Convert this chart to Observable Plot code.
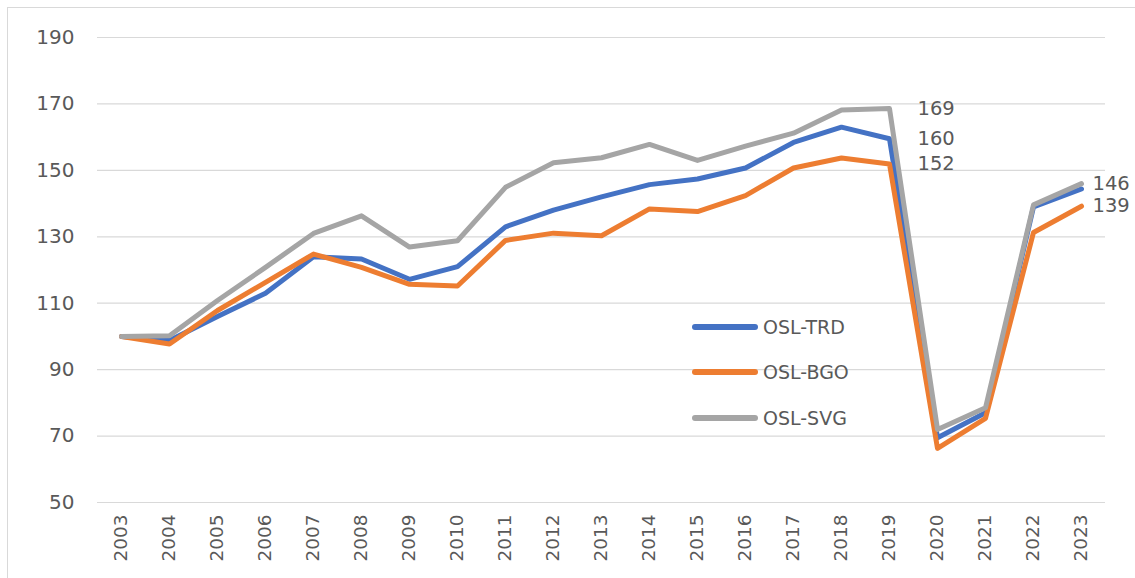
<!DOCTYPE html>
<html>
<head>
<meta charset="utf-8">
<script src="https://cdn.jsdelivr.net/npm/d3@7"></script>
<script src="https://cdn.jsdelivr.net/npm/@observablehq/plot@0.6"></script>
<style>
  html, body { margin: 0; padding: 0; background: #fff; }
  #wrap { position: relative; width: 1135px; height: 578px; overflow: hidden; font-family: "DejaVu Sans", sans-serif; }
  #frame { position: absolute; left: 7px; top: 7px; width: 1200px; height: 700px; border-left: 1.5px solid #d9d9d9; border-top: 1.5px solid #d9d9d9; box-sizing: border-box; }
  #chart { position: absolute; left: 0; top: 0; }
  #legend { position: absolute; left: 692px; top: 0; }
  .lg { position: absolute; left: 0; white-space: nowrap; display: flex; align-items: center; color: #595959; font-size: 19px; }
  .lg .sw { width: 66px; height: 6px; border-radius: 3px; margin-right: 5px; }
</style>
</head>
<body>
<div id="wrap">
  <div id="frame"></div>
  <div id="chart"></div>
  <div id="legend"></div>
</div>
<script>
const years = ["2003","2004","2005","2006","2007","2008","2009","2010","2011","2012","2013","2014","2015","2016","2017","2018","2019","2020","2021","2022","2023"];
const seriesNames = ["OSL-TRD", "OSL-BGO", "OSL-SVG"];
const seriesColors = ["#4472C4", "#ED7D31", "#A5A5A5"];
const trd = [100, 98.8, 106, 113, 124, 123.3, 117.2, 121, 133, 138, 142, 145.7, 147.4, 150.7, 158.4, 163, 159.5, 69.5, 77, 139, 144.4];
const bgo = [100, 97.7, 107.8, 116.3, 124.8, 120.8, 115.7, 115.2, 128.9, 131.1, 130.3, 138.4, 137.6, 142.4, 150.7, 153.7, 151.9, 66.3, 75.3, 131.3, 139.2];
const svg = [100, 100.2, 110.8, 120.8, 131, 136.3, 126.9, 128.8, 144.9, 152.3, 153.8, 157.8, 153, 157.3, 161.2, 168.2, 168.6, 72, 78.5, 139.6, 146];
const yTicks = [50, 70, 90, 110, 130, 150, 170, 190];
// data labels: [year, series index, text]
const labelYears = ["2019", "2019", "2019", "2023", "2023"];
const labelSeries = [2, 0, 1, 2, 1];
const labelTexts = ["169", "160", "152", "146", "139"];

const allValues = [trd, bgo, svg];
const rows = [];
seriesNames.forEach((s, i) => years.forEach((y, j) => rows.push({year: y, value: allValues[i][j], series: s})));
const labels2019 = [], labels2023 = [];
labelTexts.forEach((t, k) => {
  const yr = labelYears[k];
  const v = allValues[labelSeries[k]][years.indexOf(yr)];
  (yr === "2019" ? labels2019 : labels2023).push({year: yr, value: v, text: t});
});

const font = "DejaVu Sans, sans-serif";
const chart = Plot.plot({
  width: 1135,
  height: 578,
  marginLeft: 97,
  marginRight: 30,
  marginTop: 37,
  marginBottom: 76,
  style: {fontFamily: font, color: "#595959", background: "transparent"},
  x: {type: "point", domain: years, padding: 0.5, label: null},
  y: {domain: [50, 190], label: null},
  color: {domain: seriesNames, range: seriesColors},
  marks: [
    Plot.gridY(yTicks, {stroke: "#d9d9d9", strokeOpacity: 1, strokeWidth: 1.2}),
    Plot.axisY(yTicks, {tickSize: 0, tickPadding: 23, fontSize: 20, fill: "#595959", label: null}),
    Plot.axisX(years, {tickSize: 0, tickPadding: 12, tickRotate: -90, fontSize: 18.5, fill: "#595959", label: null}),
    Plot.line(rows, {x: "year", y: "value", z: "series", stroke: "series", strokeWidth: 5, strokeLinejoin: "round", strokeLinecap: "round"}),
    Plot.text(labels2019, {x: "year", y: "value", text: "text", dx: 28, textAnchor: "start", fontSize: 19.5, fill: "#595959"}),
    Plot.text(labels2023, {x: "year", y: "value", text: "text", dx: 11, textAnchor: "start", fontSize: 19.5, fill: "#595959"})
  ]
});
document.getElementById("chart").appendChild(chart);

const legendTops = [327, 372, 418];
const lg = document.getElementById("legend");
seriesNames.forEach((s, i) => {
  const d = document.createElement("div");
  d.className = "lg";
  d.style.top = (legendTops[i] - 12) + "px";
  d.style.height = "24px";
  d.innerHTML = `<span class="sw" style="background:${seriesColors[i]}"></span><span>${s}</span>`;
  lg.appendChild(d);
});
</script>
</body>
</html>
